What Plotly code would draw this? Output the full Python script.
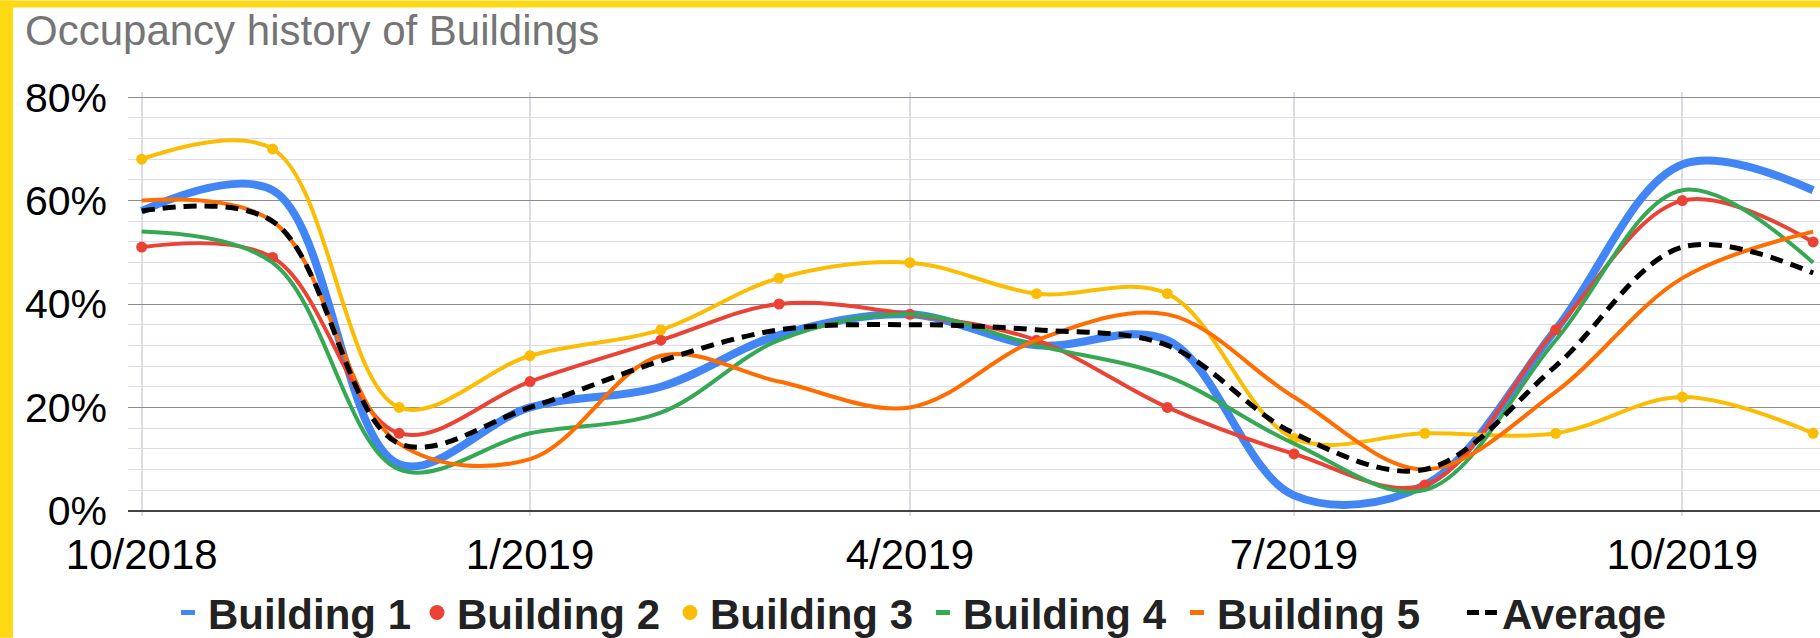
import plotly.graph_objects as go
import pandas as pd

# ---------------- data ----------------
months = ["2018-10-01", "2018-11-01", "2018-12-01", "2019-01-01", "2019-02-01",
          "2019-03-01", "2019-04-01", "2019-05-01", "2019-06-01", "2019-07-01",
          "2019-08-01", "2019-09-01", "2019-10-01", "2019-11-01"]
building_1 = [58, 62, 9, 20, 24, 34, 38, 32, 33, 3, 5, 35, 67, 62]
building_2 = [51, 49, 15, 25, 33, 40, 38, 33, 20, 11, 5, 35, 60, 52]
building_3 = [68, 70, 20, 30, 35, 45, 48, 42, 42, 14, 15, 15, 22, 15]
building_4 = [54, 48, 8, 15, 19, 33, 38, 32, 26, 13, 4, 33, 62, 48]
building_5 = [60, 56, 13, 10, 30, 25, 20, 33, 38, 22, 8, 23, 45, 54]
average = [58, 56, 13, 20, 29, 35, 36, 35, 32, 15, 8, 28, 51, 46]

series_names = ["Building 1", "Building 2", "Building 3", "Building 4", "Building 5", "Average"]
tick_dates = ["2018-10-01", "2019-01-01", "2019-04-01", "2019-07-01", "2019-10-01"]
tick_labels = ["10/2018", "1/2019", "4/2019", "7/2019", "10/2019"]
y_ticks = [0, 20, 40, 60, 80]
y_tick_labels = ["0%", "20%", "40%", "60%", "80%"]
title_text = "Occupancy history of Buildings"

# ---------------- styling ----------------
W, H = 1820, 638
FONT = "Liberation Sans"
BLUE, RED, YELLOW, GREEN, ORANGE, BLACK = "#4285F4", "#EA4335", "#FBBC04", "#34A853", "#FF6D01", "#000000"
BORDER = "#FFD814"

plot_left, plot_right = 128, W
y_lo, y_hi = -1, 81
px_per_pct = (511 - 96.7) / 80
plot_top = 96.7 - (y_hi - 80) * px_per_pct
plot_bottom = 511 + (0 - y_lo) * px_per_pct

start = pd.Timestamp(months[0])
px_per_day = (1682.3 - 141.7) / 365
x_lo = start - pd.Timedelta(days=(141.7 - plot_left) / px_per_day)
x_hi = start + pd.Timedelta(days=(plot_right - 141.7) / px_per_day)

pw = plot_right - plot_left
ph = plot_bottom - plot_top


def px_x(px):
    return (px - plot_left) / pw


def px_y(py):
    return (plot_bottom - py) / ph


fig = go.Figure()

styles = [
    (building_1, BLUE, 8, "solid", "lines"),
    (building_2, RED, 4, "solid", "lines+markers"),
    (building_3, YELLOW, 4, "solid", "lines+markers"),
    (building_4, GREEN, 4, "solid", "lines"),
    (building_5, ORANGE, 4, "solid", "lines"),
    (average, BLACK, 5, "13px,8px", "lines"),
]
for name, (vals, col, lw, dash, mode) in zip(series_names, styles):
    fig.add_trace(go.Scatter(
        x=months, y=vals, name=name, mode=mode, showlegend=False,
        line=dict(color=col, width=lw, dash=dash, shape="spline", smoothing=1.0),
        marker=dict(size=11, color=col),
        hoverinfo="skip",
    ))

# legend entries (symbols as in the reference legend)
legend_widths = [204, 208, 208, 209, 240, 170]
for i, (name, (vals, col, lw, dash, mode)) in enumerate(zip(series_names, styles)):
    if name == "Average":
        fig.add_trace(go.Scatter(x=[None], y=[None], name=name, mode="lines",
                                 line=dict(color=col, width=5, dash="12px,6px"),
                                 legendwidth=legend_widths[i]))
    elif "markers" in mode:
        fig.add_trace(go.Scatter(x=[None], y=[None], name=name, mode="markers",
                                 marker=dict(size=15, color=col, symbol="circle"),
                                 legendwidth=legend_widths[i]))
    else:
        fig.add_trace(go.Scatter(x=[None], y=[None], name=name, mode="markers",
                                 marker=dict(size=10, symbol="line-ew", color=col,
                                             line=dict(width=6, color=col)),
                                 legendwidth=legend_widths[i]))

fig.update_layout(
    width=W, height=H,
    margin=dict(l=plot_left, r=W - plot_right, t=plot_top, b=H - plot_bottom,
                pad=0, autoexpand=False),
    paper_bgcolor="white", plot_bgcolor="white",
    font=dict(family=FONT, size=42, color="#000000"),
    title=dict(text=title_text, x=25 / W, xanchor="left", xref="container",
               y=1 - 30 / H, yanchor="middle", yref="container",
               font=dict(family=FONT, size=42, color="#757575")),
    showlegend=True,
    legend=dict(orientation="h", x=px_x(168), xanchor="left",
                y=px_y(613), yanchor="middle",
                font=dict(family=FONT, size=42, color="#222222", weight="bold"),
                bgcolor="rgba(0,0,0,0)", borderwidth=0, itemclick=False),
    xaxis=dict(type="date", range=[x_lo, x_hi], tickmode="array",
               tickvals=tick_dates, ticktext=tick_labels,
               showgrid=True, gridcolor="#DCDCE2", gridwidth=1.5,
               showline=False, zeroline=False, ticks="",
               tickfont=dict(family=FONT, size=42, color="#000000"),
               ticklabelstandoff=10),
    yaxis=dict(range=[y_lo, y_hi], tickmode="array", tickvals=y_ticks,
               ticktext=y_tick_labels, showgrid=True, gridcolor="#8C8C8C",
               gridwidth=1.3, zeroline=True, zerolinecolor="#444444",
               zerolinewidth=1.5, showline=False, ticks="",
               minor=dict(tick0=0, dtick=4, showgrid=True, gridcolor="#DDDAF0",
                          gridwidth=1.3),
               tickfont=dict(family=FONT, size=41, color="#000000"),
               ticklabelstandoff=20),
    shapes=[
        dict(type="rect", xref="paper", yref="paper", layer="above",
             x0=px_x(0), x1=px_x(13), y0=px_y(H), y1=px_y(0),
             fillcolor=BORDER, line=dict(width=0)),
        dict(type="rect", xref="paper", yref="paper", layer="above",
             x0=px_x(0), x1=px_x(W), y0=px_y(7), y1=px_y(0),
             fillcolor=BORDER, line=dict(width=0)),
    ],
)

fig.write_html(
    "out.html",
    config={"displayModeBar": False},
    post_script="document.body.style.margin='0';document.body.style.overflow='hidden';",
)
